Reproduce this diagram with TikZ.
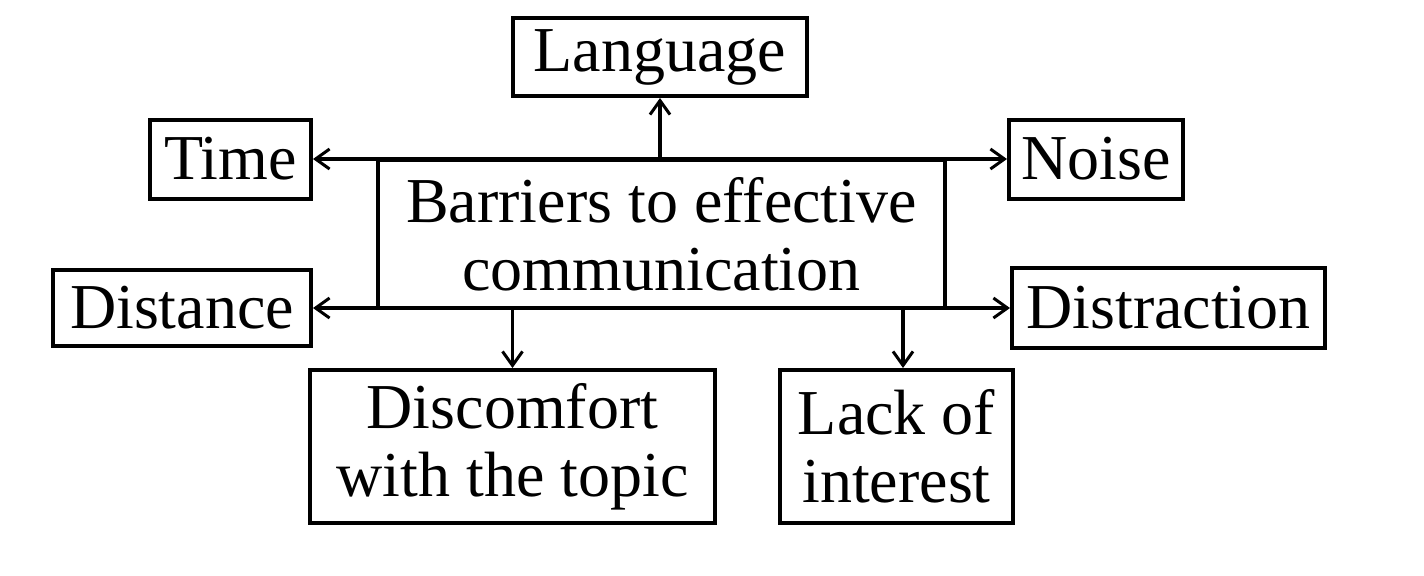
\documentclass[tikz,border=0pt]{standalone}
\usepackage{fontspec}
\setmainfont{Liberation Serif}
\usetikzlibrary{arrows.meta}
\begin{document}
\begin{tikzpicture}[x=0.5pt,y=-0.5pt,
  box/.style={draw,line width=2pt,rectangle,inner sep=0pt,align=center,
    font=\fontsize{32}{34}\selectfont},
  tip/.style={},
  conn/.style={line width=1.7pt,arrows={-{Straight Barb[length=7pt,width=10pt,line width=1.5pt]}}},
  both/.style={line width=1.7pt,arrows={{Straight Barb[length=7pt,width=10pt,line width=1.5pt]}-{Straight Barb[length=7pt,width=10pt,line width=1.5pt]}}}]
\useasboundingbox (0,0) rectangle (1424,575);
\node[box,minimum width=147pt,minimum height=39pt] (lang) at (660,57) {Language};
\node[box,minimum width=80.5pt,minimum height=39.5pt] (time) at (230.5,159) {Time};
\node[box,minimum width=87pt,minimum height=39.5pt] (noise) at (1096,159) {Noise};
\node[box,minimum width=129pt,minimum height=38pt] (dist) at (182,308) {Distance};
\node[box,minimum width=156.5pt,minimum height=40pt] (distr) at (1168.5,308) {Distraction};
\node[box,minimum width=283.5pt,minimum height=74pt] (ctr) at (661.5,234) {Barriers to effective\\communication};
\node[box,minimum width=202.5pt,minimum height=76.5pt] (disc) at (512.5,446.5) {Discomfort\\with the topic};
\node[box,minimum width=116.5pt,minimum height=76.5pt] (lack) at (896.5,446.5) {Lack of\\interest};
\coordinate (lf) at (lang.south |- ctr.north);
\coordinate (lk) at (903,308);
\coordinate (lkt) at (lk |- lack.north);
\coordinate (dc) at (disc.north |- dist.east);
\draw[both] (time.east) -- (noise.west);
\draw[both] (dist.east) -- (distr.west);
\draw[conn] (lf) -- (lang.south);
\draw[conn] (dc) -- (disc.north);
\draw[conn] (lk) -- (lkt);
\end{tikzpicture}
\end{document}
